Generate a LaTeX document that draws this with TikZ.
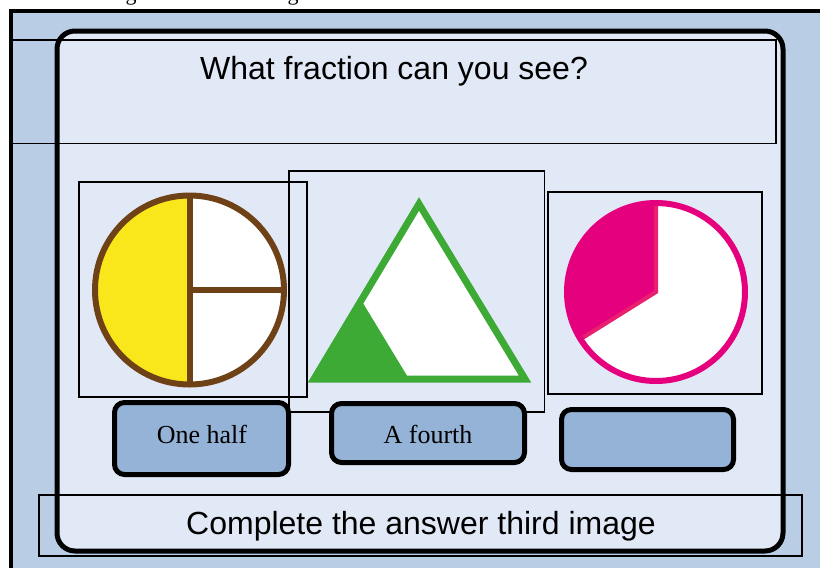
\documentclass[tikz,border=0pt]{standalone}
\usepackage{fontspec}
\setmainfont{Liberation Sans}
\newfontfamily\serifx{Liberation Serif}
\definecolor{outerblue}{HTML}{B9CDE5}
\definecolor{innerbg}{HTML}{E2E9F6}
\definecolor{ansblue}{HTML}{95B3D7}
\definecolor{brownc}{HTML}{6E4216}
\definecolor{yellowc}{HTML}{F9E71C}
\definecolor{greenc}{HTML}{3DAA35}
\definecolor{pinkc}{HTML}{E5007D}
\definecolor{pinkedge}{HTML}{E8206F}
\tikzset{
  thinbox/.style={draw=black, line width=1.3},
  ansbox/.style={draw=black, line width=5, rounded corners=10, fill=ansblue, inner sep=0},
  anstext/.style={font=\serifx\fontsize{26}{30}\selectfont, inner sep=0},
  bigtext/.style={font=\fontsize{32}{38}\selectfont, inner sep=0},
  frag/.style={font=\serifx\fontsize{22}{26}\selectfont, inner sep=0, anchor=base}
}
\begin{document}
\begin{tikzpicture}[x=1pt,y=-1pt]
\useasboundingbox (0,0) rectangle (820,568);
\begin{scope}
  \clip (0,0) rectangle (820,568);
  \fill[white] (0,0) rectangle (820,568);
  \node[frag] (g1) at (131,0.5) {g};
  \node[frag] (g2) at (293,0.5) {g};
  % outer frame
  \draw[line width=4, fill=outerblue] (10.5,10.5) rectangle (850,600);
\end{scope}
% inner rounded panel
\draw[line width=5, rounded corners=18, fill=innerbg] (57,31) rectangle (783,551);
% title and bottom boxes (unfilled)
\draw[thinbox] (12,40) rectangle (776,143.5);
\draw[thinbox] (39,495) rectangle (802,556);
\node[bigtext] (title) at (394,71.5) {What fraction can you see?};
\node[bigtext] (bottom) at (421,526.5) {Complete the answer third image};

% image boxes
\draw[thinbox] (79,182) rectangle (307,397);
\draw[thinbox] (289,171) rectangle (544.5,412);
\draw[thinbox] (548,192) rectangle (762,394);

% circle with half and quarters
\fill[white] (189.5,290) circle (94.5);
\begin{scope}
  \clip (0,0) rectangle (189.5,568);
  \fill[yellowc] (189.5,290) circle (94.5);
\end{scope}
\draw[brownc, line width=6] (189.5,196) -- (189.5,384);
\draw[brownc, line width=6] (189.5,290) -- (284,290);
\draw[brownc, line width=6] (189.5,290) circle (94.5);

% triangle
\fill[white] (419,204) -- (525,379) -- (314,379) -- cycle;
\fill[greenc] (314,379) -- (361.3,300.3) -- (409,379) -- cycle;
\draw[greenc, line width=7, line join=miter] (419,204) -- (525,379) -- (314,379) -- cycle;

% pie with a third
\fill[white] (656,292) circle (89);
\filldraw[fill=pinkc, draw=pinkedge, line width=4, line join=miter] (656,292) -- +(-90:89) arc[start angle=-90, end angle=-212, radius=89] -- cycle;
\draw[pinkc, line width=6] (656,292) circle (89);

% answer boxes
\node[ansbox, minimum width=174, minimum height=72] (a1) at (201.5,438.5) {};
\node[ansbox, minimum width=193, minimum height=59] (a2) at (428,433) {};
\node[ansbox, minimum width=172, minimum height=60] (a3) at (647.5,439.5) {};
\node[anstext] (t1) at (202,434) {One half};
\node[anstext] (t2) at (428,434) {A fourth};
\end{tikzpicture}
\end{document}
